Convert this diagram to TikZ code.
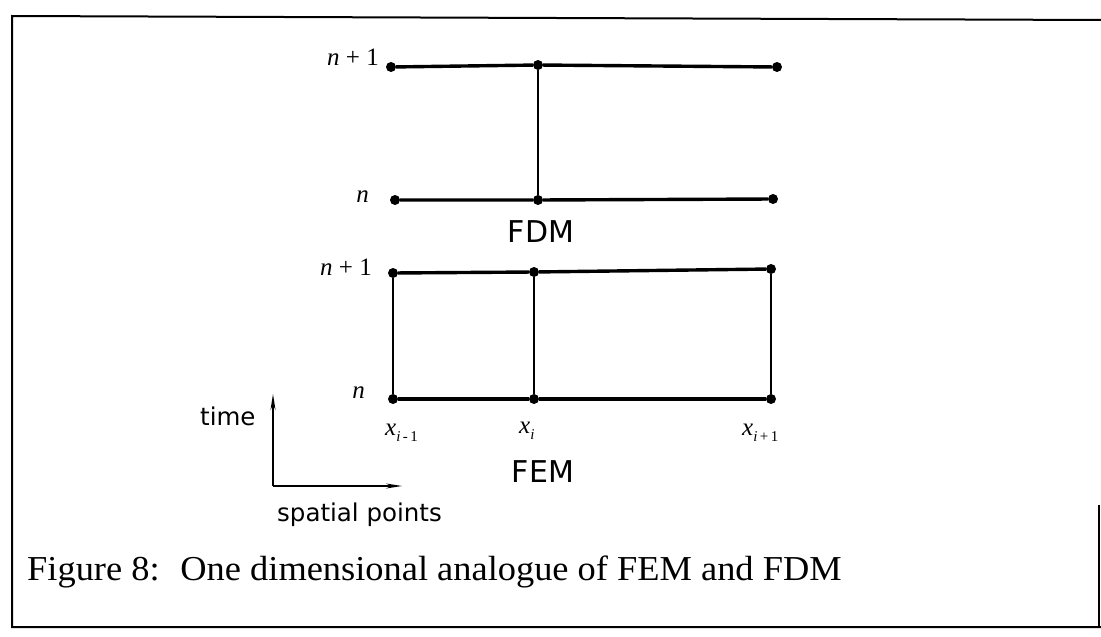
\documentclass[tikz,border=0pt]{standalone}
\usepackage{fontspec}
\setmainfont{Liberation Serif}
\newfontfamily\lblfont{DejaVu Sans}
\usetikzlibrary{arrows.meta}
\tikzset{
  dot/.style={circle, fill=black, inner sep=0pt, minimum size=10pt},
  hline/.style={line width=3.4pt},
  vline/.style={line width=1.6pt},
  frameline/.style={line width=2pt},
  axisarrow/.style={line width=1.6pt, -{Stealth[length=16pt,width=5pt]}},
  mlabel/.style={font=\fontsize{25}{27}\selectfont, inner sep=0pt},
  sflabel/.style={font=\lblfont\fontsize{24.5}{28}\selectfont, inner sep=0pt},
  ttl/.style={font=\lblfont\fontsize{30}{34}\selectfont, inner sep=0pt},
  captionstyle/.style={inner sep=0pt, font=\fontsize{35}{40}\selectfont},
}
\newcommand{\subs}[1]{\raisebox{-6pt}{\fontsize{15}{15}\selectfont #1}}
\begin{document}
\begin{tikzpicture}[x=1pt,y=-1pt]
\useasboundingbox (0,0) rectangle (1101,637);
% frame
\coordinate (TL) at (12,16);
\coordinate (TR) at (1101,20);
\coordinate (BL) at (12,627);
\coordinate (BR) at (1101,627);
\coordinate (RT) at (1099,505);
\coordinate (RB) at (1099,627);
\draw[frameline] (TR) -- (TL) -- (BL) -- (BR);
\draw[frameline] (RT) -- (RB);

% FDM dots
\node[dot] (ft1) at (391,67) {};
\node[dot] (ft2) at (538,65) {};
\node[dot] (ft3) at (777,67) {};
\node[dot] (fb1) at (395,200) {};
\node[dot] (fb2) at (538,200) {};
\node[dot] (fb3) at (773,199) {};
\draw[hline] (ft1) -- (ft2) -- (ft3);
\draw[hline] (fb1) -- (fb2) -- (fb3);
\draw[vline] (ft2) -- (fb2);

% FEM dots
\node[dot] (et1) at (393,273) {};
\node[dot] (et2) at (534,272) {};
\node[dot] (et3) at (771,269) {};
\node[dot] (eb1) at (393,399) {};
\node[dot] (eb2) at (534,399) {};
\node[dot] (eb3) at (771,399) {};
\draw[hline] (et1) -- (et2) -- (et3);
\draw[hline] (eb1) -- (eb2) -- (eb3);
\draw[vline] (et1) -- (eb1);
\draw[vline] (et2) -- (eb2);
\draw[vline] (et3) -- (eb3);

% level labels
\node[mlabel, anchor=base east] (lfdm1) at (379,65) {\textit{n} + 1};
\node[mlabel, anchor=base east] (lfdm0) at (369,202) {\textit{n}};
\node[mlabel, anchor=base east] (lfem1) at (372,275) {\textit{n} + 1};
\node[mlabel, anchor=base east] (lfem0) at (365,398) {\textit{n}};

% x labels
\node[mlabel, anchor=base west] (xa) at (385,435) {\textit{x}\subs{\textit{i}\,-\,1}};
\node[mlabel, anchor=base west] (xb) at (519,433) {\textit{x}\subs{\textit{i}}};
\node[mlabel, anchor=base west] (xc) at (742,435) {\textit{x}\subs{\textit{i}\,+\,1}};

% method titles
\node[ttl] (tfdm) at (541,232) {FDM};
\node[ttl] (tfem) at (543,472) {FEM};

% axes
\coordinate (O) at (273,486);
\coordinate (Ot) at (273,394);
\coordinate (Or) at (402,486);
\draw[axisarrow] (O) -- (Ot);
\draw[axisarrow] (O) -- (Or);
\node[sflabel, anchor=base west] (ltime) at (200,425) {time};
\node[sflabel, anchor=base west] (lspace) at (277,521) {spatial points};

% caption
\node[captionstyle, anchor=base west] (cap) at (27,580)
  {\scalebox{1.04}[1]{Figure 8:\hspace{20pt}One dimensional analogue of FEM and FDM}};
\end{tikzpicture}
\end{document}
